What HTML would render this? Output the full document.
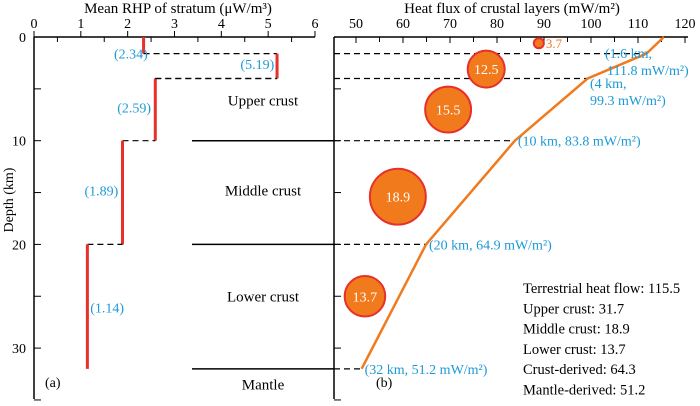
<!DOCTYPE html>
<html><head><meta charset="utf-8"><style>
body{margin:0;background:#fff}
svg text{font-family:"Liberation Serif",serif}
</style></head><body>
<svg id="c" width="700" height="401" xmlns="http://www.w3.org/2000/svg"></svg>
<script>
const rhpDepths=[0,1.6,4,10,20,32];
const rhpValues=[2.34,5.19,2.59,1.89,1.14];
const rhpTicks=[0,1,2,3,4,5,6];
const depthTicks=[0,10,20,30];
const fluxTicks=[50,60,70,80,90,100,110,120];
const fluxDepths=[0,1.6,4,10,20,32];
const fluxValues=[115.5,111.8,99.3,83.8,64.9,51.2];
const bubbleValues=[3.7,12.5,15.5,18.9,13.7];
const bubbleFlux=[88.9,77.7,69.6,58.9,51.9];
const bubbleDepth=[0.6,3.1,7,15.4,25];
const layerNames=["Upper crust","Middle crust","Lower crust","Mantle"];
const layerDepth=[6.1,14.8,25,33.5];
const summary=["Terrestrial heat flow: 115.5","Upper crust: 31.7","Middle crust: 18.9","Lower crust: 13.7","Crust-derived: 64.3","Mantle-derived: 51.2"];

const NS="http://www.w3.org/2000/svg";
const svg=document.getElementById('c');
const Y=d=>37+d*10.37;
const XL=v=>34+v*46.83;
const XR=v=>356+(v-50)*4.7;
const BLUE="#1c9ad6",RED="#e8302a",OR="#f07a1c";
function el(t,a,txt){const e=document.createElementNS(NS,t);for(const k in a)e.setAttribute(k,a[k]);if(txt!=null)e.textContent=txt;svg.appendChild(e);return e;}
function line(x1,y1,x2,y2,s,w,d){return el('line',{x1,y1,x2,y2,stroke:s,'stroke-width':w,'stroke-dasharray':d||'none'});}

let e=line(34,37,315,37,'#000',1.5);
e=line(34,37,34,399,'#000',1.5);
rhpTicks.forEach(v=>{line(XL(v),37,XL(v),31,'#000',1);
 e=el('text',{x:XL(v),y:28,'font-size':14,'text-anchor':'middle'},v);});
for(let v=0.5;v<6;v+=1)line(XL(v),37,XL(v),42,'#000',1);
for(let d=5;d<=35;d+=5)line(34,Y(d),41,Y(d),'#000',1);
depthTicks.forEach(d=>{e=el('text',{x:26,y:Y(d)+5,'font-size':14,'text-anchor':'end'},d);});
e=el('text',{x:13,y:200,'font-size':14,'text-anchor':'middle',transform:'rotate(-90 13 200)'},'Depth (km)');
e=el('text',{x:178,y:13,'font-size':15,'text-anchor':'middle'},'Mean RHP of stratum  (μW/m³)');

rhpValues.forEach((v,i)=>{
 e=line(XL(v),Y(rhpDepths[i]),XL(v),Y(rhpDepths[i+1]),RED,3);
 if(i<rhpValues.length-1){const n=rhpValues[i+1];line(XL(Math.min(v,n)),Y(rhpDepths[i+1]),XL(Math.max(v,n)),Y(rhpDepths[i+1]),'#000',1.2,'6,4');}
});
line(XL(2.59),Y(4),XL(5.19),Y(4),'#000',1.2,'6,4');
const rhpLblPos=[[2.43,1.6],[5.13,2.6],[2.5,6.8],[1.8,14.8],[1.2,26.1]];
rhpValues.forEach((v,i)=>{const [x,d]=rhpLblPos[i];e=el('text',{x:XL(x),y:Y(d)+5,'font-size':14,fill:BLUE,'text-anchor':i==4?'start':'end'},'('+v.toFixed(2)+')');});
[10,20,32].forEach(d=>{e=line(192,Y(d),334,Y(d),'#000',1.5);});
layerNames.forEach((n,i)=>{e=el('text',{x:263,y:Y(layerDepth[i])+5,'font-size':15,'text-anchor':'middle'},n);});
el('text',{x:45,y:387,'font-size':14},'(a)');

e=line(334,37,688,37,'#000',1.5);
line(334,37,334,399,'#000',1.5);
fluxTicks.forEach(v=>{line(XR(v),37,XR(v),43,'#000',1);
 e=el('text',{x:XR(v),y:28,'font-size':14,'text-anchor':'middle'},v);});
for(let v=55;v<120;v+=10)line(XR(v),37,XR(v),42,'#000',1);
for(let d=5;d<=35;d+=5)line(334,Y(d),341,Y(d),'#000',1);
e=el('text',{x:512,y:13,'font-size':15,'text-anchor':'middle'},'Heat flux of crustal layers (mW/m²)');

fluxDepths.slice(1).forEach((d,i)=>{line(334,Y(d),XR(fluxValues[i+1]),Y(d),'#000',1.2,'6,4');});
bubbleValues.forEach((v,i)=>{const r=v*1.48;
 e=el('circle',{cx:XR(bubbleFlux[i]),cy:Y(bubbleDepth[i]),r:r<8?5:r,fill:OR,stroke:RED,'stroke-width':2});
 if(v<5){e=el('text',{x:XR(bubbleFlux[i])+7,y:Y(bubbleDepth[i])+5,'font-size':13,fill:OR},v);}
 else{e=el('text',{x:XR(bubbleFlux[i]),y:Y(bubbleDepth[i])+5,'font-size':14,fill:'#fff','text-anchor':'middle'},v);}
 });
e=el('polyline',{points:fluxValues.map((v,i)=>XR(v)+','+Y(fluxDepths[i])).join(' '),fill:'none',stroke:OR,'stroke-width':2.5});
const fl=[["(1.6 km,",605,58],["111.8 mW/m²)",607,75],["(4 km,",590,88],["99.3 mW/m²)",590,105]];
fl.forEach(f=>{e=el('text',{x:f[1],y:f[2],'font-size':14,fill:BLUE},f[0]);});
[[3,"(10 km, 83.8 mW/m²)"],[4,"(20 km, 64.9 mW/m²)"],[5,"(32 km, 51.2 mW/m²)"]].forEach(f=>{const i=f[0];e=el('text',{x:XR(fluxValues[i])+3,y:Y(fluxDepths[i])+5,'font-size':14,fill:BLUE},f[1]);});
el('text',{x:376,y:387,'font-size':14},'(b)');
summary.forEach((s,i)=>{e=el('text',{x:523,y:293+i*20.3,'font-size':14.5},s);});
</script>
</body></html>
